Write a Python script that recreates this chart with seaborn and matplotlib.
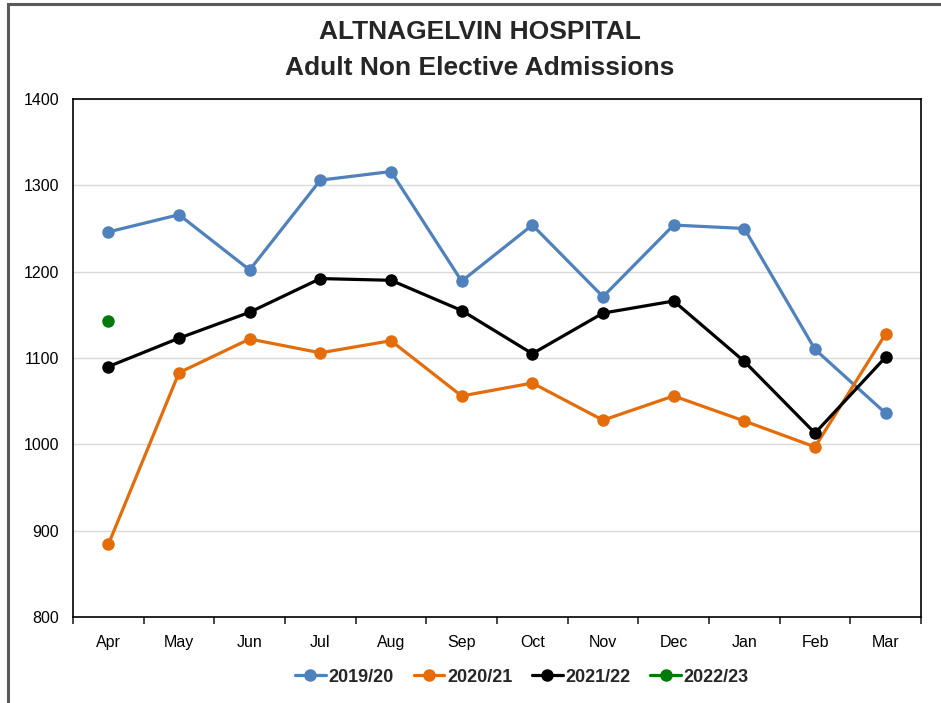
import pandas as pd
import matplotlib.pyplot as plt
import seaborn as sns
import numpy as np
from matplotlib.patches import Rectangle

# chart values
months = ["Apr", "May", "Jun", "Jul", "Aug", "Sep", "Oct", "Nov", "Dec", "Jan", "Feb", "Mar"]
y2019 = [1246, 1266, 1202, 1306, 1316, 1189, 1254, 1171, 1254, 1250, 1110, 1036]
y2020 = [884, 1083, 1122, 1106, 1120, 1056, 1071, 1028, 1056, 1027, 997, 1128]
y2021 = [1090, 1123, 1153, 1192, 1190, 1155, 1105, 1152, 1166, 1096, 1013, 1101]
y2022 = [1143] + [np.nan] * 11
seasons = ["2019/20", "2020/21", "2021/22", "2022/23"]
yticks = [800, 900, 1000, 1100, 1200, 1300, 1400]

colours = ["#4F81BD", "#E46C0A", "#000000", "#007A0A"]

rows = []
for s, vals in zip(seasons, [y2019, y2020, y2021, y2022]):
    for m, v in zip(months, vals):
        rows.append({"Month": m, "Season": s, "Admissions": v})
df = pd.DataFrame(rows)

sns.set_style("white")
plt.rcParams["font.family"] = ["Liberation Sans", "DejaVu Sans"]

fig = plt.figure(figsize=(9.41, 7.03), dpi=100)
ax = fig.add_axes([73 / 941, 1 - 617 / 703, 848 / 941, 518 / 703])

# outer frame like the exported chart
fig.patches.append(Rectangle((8 / 941, -0.1), 1.2, 1 - 4 / 703 + 0.1,
                             transform=fig.transFigure, fill=False,
                             edgecolor="#595959", linewidth=2.2))

sns.lineplot(data=df, x="Month", y="Admissions", hue="Season", style="Season",
             palette=colours, markers=["o"] * 4, dashes=False, sort=False,
             linewidth=2.3, markersize=9, markeredgewidth=0, ax=ax)

ax.set_xlim(-0.5, 11.5)
ax.set_ylim(800, 1400)
ax.set_yticks(yticks)
ax.set_xticks(np.arange(len(months)))
ax.set_xticklabels(months)
ax.set_xticks(np.arange(-0.5, 12, 1), minor=True)
ax.tick_params(axis="x", which="major", length=0, pad=13, labelsize=11.5, colors="#000000")
ax.tick_params(axis="x", which="minor", length=5, width=1.2, direction="out", bottom=True)
ax.tick_params(axis="y", length=0, pad=10, labelsize=11.5, colors="#000000")
ax.grid(axis="y", color="#D9D9D9", linewidth=1)
ax.set_axisbelow(True)
for sp in ax.spines.values():
    sp.set_visible(True)
    sp.set_color("#000000")
    sp.set_linewidth(1.2)
ax.set_xlabel("")
ax.set_ylabel("")

fig.text(480 / 941, 1 - 32 / 703, "ALTNAGELVIN HOSPITAL", ha="center", va="center",
         fontsize=19, fontweight="bold")
fig.text(480 / 941, 1 - 68 / 703, "Adult Non Elective Admissions", ha="center", va="center",
         fontsize=19, fontweight="bold")

handles, labels = ax.get_legend_handles_labels()
ax.legend_.remove()
fig.legend(handles, labels, loc="center", bbox_to_anchor=(522 / 941, 1 - 677 / 703),
           ncol=4, frameon=False, prop={"weight": "bold", "size": 13},
           handlelength=1.7, handletextpad=0.15, columnspacing=1.1)

plt.savefig("out.png", dpi=100)
